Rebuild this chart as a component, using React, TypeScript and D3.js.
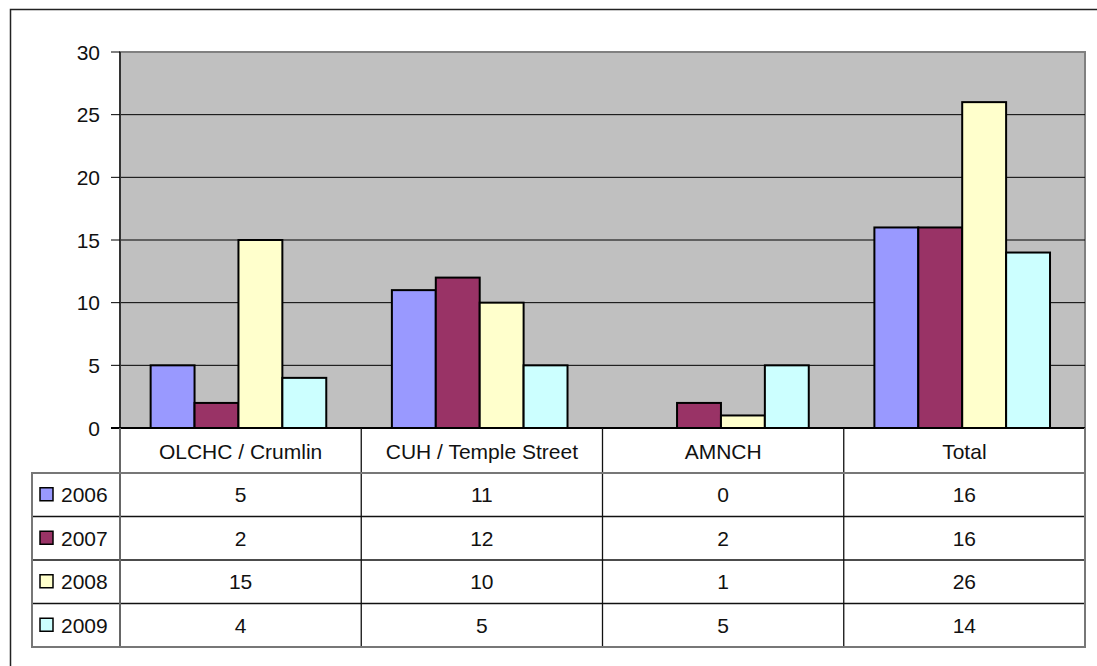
import { useEffect, useRef } from 'react';
import * as d3 from 'd3';

const categories = ['OLCHC / Crumlin', 'CUH / Temple Street', 'AMNCH', 'Total'];
const years = ['2006', '2007', '2008', '2009'];
const colors = ['#9999FF', '#993366', '#FFFFCC', '#CCFFFF'];
const values = [
  [5, 11, 0, 16],
  [2, 12, 2, 16],
  [15, 10, 1, 26],
  [4, 5, 5, 14]
];
const yTicks = [0, 5, 10, 15, 20, 25, 30];

const W = 1097;
const H = 666;
const plot = { left: 120, right: 1085, top: 52, bottom: 428 };
const headerH = 45;
const rowH = 43.5;
const legendLeft = 32;
const font = '"Liberation Sans", Arial, sans-serif';
const fs = 21;

export default function App() {
  const svgRef = useRef<SVGSVGElement>(null);

  useEffect(() => {
    if (!svgRef.current) return;
    const svg = d3.select(svgRef.current);
    svg.selectAll('*').remove();

    // outer chart border (open on the right / bottom like the crop)
    svg.append('rect').attr('x', 0).attr('y', 0).attr('width', W).attr('height', H).attr('fill', '#fff');
    svg.append('path')
      .attr('d', `M10.5,${H}V9.5H${W}`)
      .attr('fill', 'none').attr('stroke', '#222').attr('stroke-width', 1.5);

    const x0 = d3.scaleBand<string>().domain(categories).range([plot.left, plot.right]).paddingInner(0).paddingOuter(0);
    const y = d3.scaleLinear().domain([0, 30]).range([plot.bottom, plot.top]);
    const bw = x0.bandwidth();
    const x1 = d3.scaleBand<string>().domain(years).range([bw * 0.127, bw * 0.855]).padding(0);

    // plot area
    svg.append('rect')
      .attr('x', plot.left).attr('y', plot.top)
      .attr('width', plot.right - plot.left).attr('height', plot.bottom - plot.top)
      .attr('fill', '#C0C0C0').attr('stroke', '#808080').attr('stroke-width', 2);

    // gridlines
    svg.append('g').selectAll('line')
      .data(yTicks.filter(t => t > 0 && t < 30))
      .join('line')
      .attr('x1', plot.left).attr('x2', plot.right)
      .attr('y1', d => y(d)).attr('y2', d => y(d))
      .attr('stroke', '#000').attr('stroke-width', 1);

    // bars
    const groups = svg.append('g').selectAll('g')
      .data(categories)
      .join('g')
      .attr('transform', d => `translate(${x0(d)},0)`);
    groups.selectAll('rect')
      .data((_, ci) => years.map((yr, si) => ({ yr, si, v: values[si][ci] })).filter(d => d.v > 0))
      .join('rect')
      .attr('x', d => x1(d.yr)!)
      .attr('width', x1.bandwidth())
      .attr('y', d => y(d.v))
      .attr('height', d => y(0) - y(d.v))
      .attr('fill', d => colors[d.si])
      .attr('stroke', '#000').attr('stroke-width', 2);

    // y axis
    svg.append('line')
      .attr('x1', plot.left).attr('x2', plot.left)
      .attr('y1', plot.top).attr('y2', plot.bottom)
      .attr('stroke', '#333').attr('stroke-width', 2);
    svg.append('line')
      .attr('x1', 111).attr('x2', plot.right)
      .attr('y1', plot.bottom).attr('y2', plot.bottom)
      .attr('stroke', '#000').attr('stroke-width', 2);
    const ty = svg.append('g').selectAll('g').data(yTicks).join('g');
    ty.append('line')
      .attr('x1', 111).attr('x2', plot.left)
      .attr('y1', d => y(d)).attr('y2', d => y(d))
      .attr('stroke', '#000').attr('stroke-width', 1);
    ty.append('text')
      .attr('x', 100).attr('y', d => y(d)).attr('dy', '0.36em')
      .attr('text-anchor', 'end')
      .attr('font-family', font).attr('font-size', fs).attr('fill', '#111')
      .text(d => d);

    // data table
    const tTop = plot.bottom;
    const rowsTop = tTop + headerH;
    const tBottom = rowsTop + rowH * years.length;
    const t = svg.append('g');

    // row separators
    years.forEach((_, i) => {
      if (i === 0) return;
      const yy = rowsTop + rowH * i;
      t.append('line').attr('x1', legendLeft).attr('x2', plot.right).attr('y1', yy).attr('y2', yy)
        .attr('stroke', '#111').attr('stroke-width', 1.3);
    });
    // column separators
    categories.forEach((c, i) => {
      if (i === 0) return;
      const xx = x0(c)!;
      t.append('line').attr('x1', xx).attr('x2', xx).attr('y1', tTop).attr('y2', tBottom)
        .attr('stroke', '#111').attr('stroke-width', 1.3);
    });
    // header left border / legend column right border
    t.append('line').attr('x1', plot.left).attr('x2', plot.left).attr('y1', tTop).attr('y2', tBottom)
      .attr('stroke', '#666').attr('stroke-width', 2);
    // table outer outline
    t.append('path')
      .attr('d', `M${legendLeft},${rowsTop}H${plot.right}V${tBottom}H${legendLeft}Z`)
      .attr('fill', 'none').attr('stroke', '#777').attr('stroke-width', 2);
    t.append('line').attr('x1', plot.right).attr('x2', plot.right).attr('y1', tTop).attr('y2', rowsTop)
      .attr('stroke', '#777').attr('stroke-width', 2);

    // header labels
    t.selectAll('text.cat').data(categories).join('text')
      .attr('class', 'cat')
      .attr('x', d => x0(d)! + bw / 2).attr('y', tTop + headerH / 2 + 1).attr('dy', '0.36em')
      .attr('text-anchor', 'middle')
      .attr('font-family', font).attr('font-size', fs).attr('fill', '#111')
      .text(d => d);

    // rows
    years.forEach((yr, si) => {
      const cy = rowsTop + rowH * si + rowH / 2;
      t.append('rect')
        .attr('x', 40).attr('y', cy - 7).attr('width', 13).attr('height', 13)
        .attr('fill', colors[si]).attr('stroke', '#000').attr('stroke-width', 1.5);
      t.append('text')
        .attr('x', 61).attr('y', cy).attr('dy', '0.36em')
        .attr('font-family', font).attr('font-size', fs).attr('fill', '#111')
        .text(yr);
      t.selectAll(`text.v${si}`).data(values[si]).join('text')
        .attr('class', `v${si}`)
        .attr('x', (_, ci) => x0(categories[ci])! + bw / 2).attr('y', cy).attr('dy', '0.36em')
        .attr('text-anchor', 'middle')
        .attr('font-family', font).attr('font-size', fs).attr('fill', '#111')
        .text(d => d);
    });
  }, []);

  return (
    <svg
      ref={svgRef}
      width={W}
      height={H}
      style={{ position: 'absolute', left: 0, top: 0, display: 'block' }}
    />
  );
}
